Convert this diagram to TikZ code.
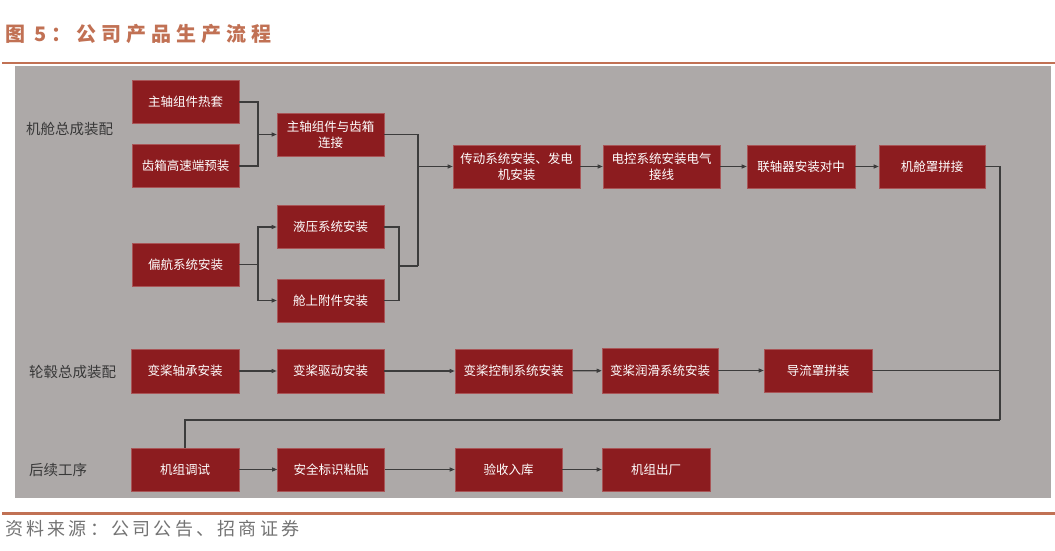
\documentclass[tikz,border=0pt]{standalone}
\usepackage{fontspec}
\setmainfont{Noto Sans CJK SC}
\newfontfamily\titlefont[LetterSpace=25]{Noto Sans CJK SC}
\newfontfamily\srcfont[LetterSpace=18]{Noto Sans CJK SC}
\usetikzlibrary{arrows.meta}
\definecolor{boxred}{RGB}{140,28,31}
\definecolor{panelgray}{RGB}{173,169,168}
\definecolor{rulebrown}{RGB}{193,113,84}
\definecolor{linegray}{RGB}{60,60,60}

\begin{document}
\begin{tikzpicture}[x=1pt,y=-1pt,>={Triangle[length=5pt,width=4pt]},
  every node/.style={inner sep=0pt},
  stage/.style={draw=boxred!75!white,line width=0.6pt,fill=boxred,text=white,align=center,
    minimum width=107pt,minimum height=43pt,font=\fontsize{12.5}{16}\selectfont},
  part/.style={anchor=west,text=black!78,font=\fontsize{14.5}{17}\selectfont},
  flow/.style={draw=linegray,line width=1.1pt}]
\useasboundingbox (0,0) rectangle (1055,551);
\node[anchor=west,text=rulebrown,font=\titlefont\fontsize{20}{24}\selectfont\bfseries] (title) at (5,33.5) {图 5：公司产品生产流程};
\draw[rulebrown,line width=2pt] (2,63) -- (1055,63);
\fill[panelgray] (15,66) rectangle (1051,498);
\draw[rulebrown,line width=3pt] (2,513) -- (1055,513);
\node[anchor=west,text=black!55,font=\srcfont\fontsize{18}{21}\selectfont] (source) at (5,529) {资料来源：公司公告、招商证券};

\node[part] (nacelle) at (26,129) {机舱总成装配};
\node[part] (hub) at (29,372) {轮毂总成装配};
\node[part] (after) at (29,470) {后续工序};

\node[stage] (rezhu) at (185.5,102) {主轴组件热套};
\node[stage] (chixiang) at (185.5,166) {齿箱高速端预装};
\node[stage] (lianjie) at (330.5,134.5) {主轴组件与齿箱\\连接};
\node[stage] (pianhang) at (185.5,264.5) {偏航系统安装};
\node[stage] (yeya) at (330.5,227) {液压系统安装};
\node[stage] (fujian) at (330.5,300.5) {舱上附件安装};
\node[stage,minimum width=127pt] (chuandong) at (516.5,166.5) {传动系统安装、发电\\机安装};
\node[stage,minimum width=117pt] (diankong) at (661.5,166.5) {电控系统安装电气\\接线};
\node[stage,minimum width=108pt] (lianzhou) at (801,166.5) {联轴器安装对中};
\node[stage,minimum width=106pt] (jicang) at (932,166.5) {机舱罩拼接};

\node[stage,minimum width=108pt,minimum height=44pt] (zhoucheng) at (185,371) {变桨轴承安装};
\node[stage,minimum height=44pt] (qudong) at (330.5,371) {变桨驱动安装};
\node[stage,minimum width=117pt,minimum height=44pt] (kongzhi) at (513.5,371) {变桨控制系统安装};
\node[stage,minimum width=116pt,minimum height=45pt] (runhua) at (660,370.5) {变桨润滑系统安装};
\node[stage,minimum width=108pt] (daoliu) at (818,370.5) {导流罩拼装};

\node[stage,minimum width=108pt] (tiaoshi) at (185,469.5) {机组调试};
\node[stage] (biaoshi) at (331,469.5) {安全标识粘贴};
\node[stage] (yanshou) at (508.5,469.5) {验收入库};
\node[stage,minimum width=108pt] (chuchang) at (656,469.5) {机组出厂};

\coordinate (j1) at (258,134.5);
\coordinate (j2) at (258,264.5);
\coordinate (j3) at (399,266);
\coordinate (j4) at (418,266);
\coordinate (j5) at (418,166.5);
\coordinate (j6) at (1000,420);

\draw[flow] (rezhu.east) -| (j1);
\draw[flow] (chixiang.east) -| (j1);
\draw[flow,->] (j1) -- (lianjie.west);
\draw[flow] (pianhang.east) -- (j2);
\draw[flow,->] (j2) |- (yeya.west);
\draw[flow,->] (j2) |- (fujian.west);
\draw[flow] (yeya.east) -| (j3);
\draw[flow] (fujian.east) -| (j3);
\draw[flow] (j3) -- (j4);
\draw[flow] (lianjie.east) -| (j4);
\draw[flow,->] (j5) -- (chuandong.west);
\draw[flow,->] (chuandong) -- (diankong);
\draw[flow,->] (diankong) -- (lianzhou);
\draw[flow,->] (lianzhou) -- (jicang);
\draw[flow] (jicang.east) -| (j6);

\draw[flow,->] (zhoucheng) -- (qudong);
\draw[flow,->] (qudong) -- (kongzhi);
\draw[flow,->] (kongzhi) -- (runhua);
\draw[flow,->] (runhua) -- (daoliu);
\draw[flow] (daoliu.east) -- (daoliu.east -| j6);
\draw[flow] (j6) -| (tiaoshi.north);

\draw[flow,->] (tiaoshi) -- (biaoshi);
\draw[flow,->] (biaoshi) -- (yanshou);
\draw[flow,->] (yanshou) -- (chuchang);
\end{tikzpicture}
\end{document}
